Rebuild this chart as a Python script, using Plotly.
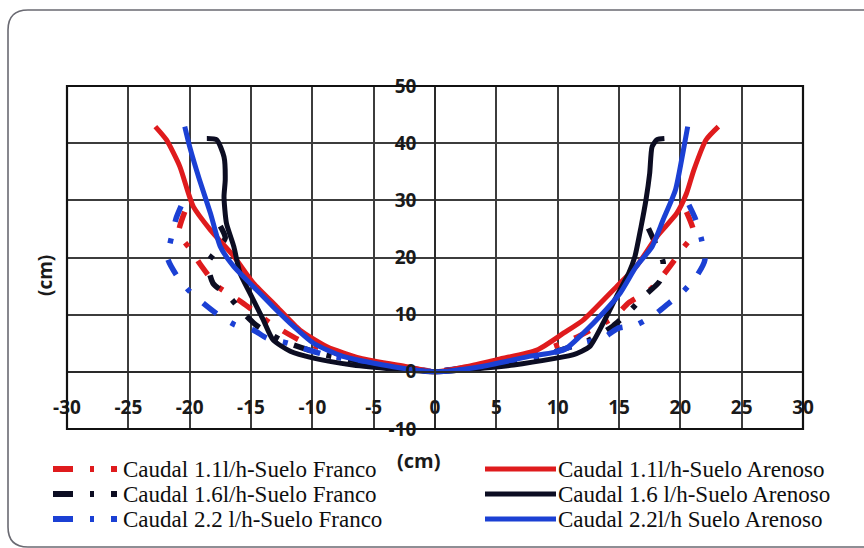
import plotly.graph_objects as go

# ---------------- data ----------------
# Suelo Arenoso (solid lines), left top -> origin -> right top
are11_x = [-22.8, -21.9, -20.8, -20.1, -19.7, -18.3, -16.4, -14.8, -12.9, -11.0, -8.8, -6.1, -2.3, 0,
           2.5, 5.0, 8.3, 10.5, 12.1, 14.8, 16.4, 18.1, 19.7, 20.5, 21.1, 22.1, 23.1]
are11_y = [42.9, 40.6, 35.9, 31.2, 28.9, 24.8, 20.2, 15.5, 11.4, 7.3, 4.4, 2.4, 0.9, 0,
           0.9, 2.1, 3.8, 6.8, 9.1, 14.9, 18.4, 23.7, 27.7, 31.2, 35.3, 40.6, 42.9]

are16_x = [-18.6, -17.8, -17.2, -17.1, -17.2, -17.0, -16.4, -15.9, -15.1, -14.0, -13.2, -11.8, -9.9, -6.7, -3.4, 0,
           2.3, 6.4, 9.9, 11.3, 12.6, 13.7, 14.8, 15.8, 16.3, 16.8, 17.2, 17.5, 17.7, 18.1, 18.7]
are16_y = [40.8, 40.6, 37.6, 33.6, 30.6, 26.0, 21.9, 17.3, 13.8, 9.1, 5.6, 3.6, 2.4, 1.2, 0.5, 0,
           0.35, 1.2, 2.4, 3.0, 4.4, 8.5, 13.2, 17.3, 20.2, 25.4, 30.1, 34.7, 39.4, 40.6, 40.8]

are22_x = [-20.4, -20.0, -19.2, -18.3, -17.5, -16.4, -14.8, -13.2, -11.5, -9.9, -7.5, -3.4, 0,
           3.7, 7.7, 10.5, 12.1, 13.7, 15.1, 16.4, 17.7, 18.6, 19.6, 20.2, 20.6]
are22_y = [42.9, 39.4, 33.6, 27.7, 21.9, 18.4, 14.9, 11.4, 7.9, 5.0, 2.7, 0.9, 0,
           0.9, 2.7, 3.8, 6.8, 10.3, 13.8, 18.4, 21.9, 26.6, 31.8, 38.2, 42.9]

# Suelo Franco (dash-dot lines): left half and right half, each from top to origin
fra11_lx = [-20.4, -20.9, -20.0, -19.2, -18.2, -17.7, -15.7, -14.0, -13.2, -11.0, -8.0, -5.0, 0]
fra11_ly = [28.0, 24.2, 21.6, 19.0, 16.1, 14.9, 12.1, 9.4, 8.2, 5.5, 3.2, 1.6, 0]
fra11_rx = [20.5, 21.1, 20.2, 19.3, 18.3, 17.5, 15.8, 14.7, 14.0, 11.0, 8.0, 5.0, 0]
fra11_ry = [28.0, 24.2, 21.6, 18.9, 16.1, 14.3, 12.1, 9.7, 8.8, 5.5, 3.2, 1.6, 0]

fra16_lx = [-17.5, -17.1, -18.5, -18.1, -16.8, -15.8, -14.6, -12.5, -9.0, -5.0, 0]
fra16_ly = [25.5, 23.4, 19.1, 15.5, 13.2, 10.7, 8.2, 5.5, 3.0, 1.4, 0]
fra16_rx = [17.4, 17.7, 18.6, 18.3, 17.0, 15.9, 14.5, 12.5, 9.0, 5.0, 0]
fra16_ry = [25.1, 23.7, 19.1, 15.8, 13.2, 10.7, 8.0, 5.5, 3.0, 1.4, 0]

fra22_lx = [-20.7, -21.1, -21.5, -21.8, -21.1, -20.1, -18.9, -17.7, -16.3, -14.8, -13.7, -12.0, -9.0, -5.0, 0]
fra22_ly = [29.0, 26.9, 23.4, 19.9, 17.0, 14.3, 12.0, 10.0, 8.2, 7.3, 5.9, 5.0, 3.0, 1.5, 0]
fra22_rx = [20.7, 21.2, 21.7, 22.0, 21.4, 20.3, 19.0, 17.9, 16.4, 14.9, 13.7, 12.0, 9.0, 5.0, 0]
fra22_ry = [29.2, 26.9, 23.4, 19.6, 17.0, 14.2, 11.9, 10.0, 8.2, 7.6, 5.9, 5.0, 3.0, 1.5, 0]

x_ticks = [-30, -25, -20, -15, -10, -5, 0, 5, 10, 15, 20, 25, 30]
y_ticks = [-10, 0, 10, 20, 30, 40, 50]

series_names = ["Caudal 1.1l/h-Suelo Franco", "Caudal 1.6l/h-Suelo Franco", "Caudal 2.2 l/h-Suelo Franco",
                "Caudal 1.1l/h-Suelo Arenoso", "Caudal 1.6 l/h-Suelo Arenoso", "Caudal 2.2l/h Suelo Arenoso"]

RED, BLACK, BLUE = "#df1b1d", "#0c0d22", "#1b40d4"
COLORS = [RED, BLACK, BLUE]
DASH = "17px,17px,5px,17px"

fig = go.Figure()

franco_data = [(fra11_lx, fra11_ly, fra11_rx, fra11_ry),
               (fra16_lx, fra16_ly, fra16_rx, fra16_ry),
               (fra22_lx, fra22_ly, fra22_rx, fra22_ry)]
arenoso_data = [(are11_x, are11_y), (are16_x, are16_y), (are22_x, are22_y)]

for (lx, ly, rx, ry), name, color in zip(franco_data, series_names[:3], COLORS):
    fig.add_trace(go.Scatter(
        x=lx + [None] + rx, y=ly + [None] + ry, mode="lines", name=name,
        connectgaps=False, showlegend=False,
        line=dict(color=color, width=5.5, dash=DASH, shape="spline", smoothing=0.6)))

for (x, y), name, color in zip(arenoso_data, series_names[3:], COLORS):
    fig.add_trace(go.Scatter(
        x=x, y=y, mode="lines", name=name, showlegend=False,
        line=dict(color=color, width=5, shape="spline", smoothing=0.6)))

W, H = 864, 548
L, R, T, B = 67, 61, 86, 119
pw, ph = W - L - R, H - T - B


def px(v):
    return (v - L) / pw


def py(v):
    return (H - B - v) / ph


tickfont = dict(family="Open Sans", size=19, color="#1a1a1a", weight="bold")
fig.update_xaxes(range=[-30, 30], tickvals=x_ticks, ticktext=[str(v) for v in x_ticks],
                 showgrid=True, gridcolor="#3c3c3c", gridwidth=1.6,
                 zeroline=False, showline=True, linecolor="#2a2a2a", linewidth=1.6,
                 anchor="free", position=10 / 60, ticks="", ticklabelstandoff=19,
                 tickfont=tickfont, fixedrange=True, automargin=False)
fig.update_yaxes(range=[-10, 50], tickvals=y_ticks, ticktext=[str(v) for v in y_ticks],
                 showgrid=True, gridcolor="#3c3c3c", gridwidth=1.6,
                 zeroline=False, showline=True, linecolor="#2a2a2a", linewidth=1.6,
                 anchor="free", position=0.5, ticks="", ticklabelstandoff=14,
                 tickfont=tickfont, fixedrange=True, automargin=False)

# outer rounded chart border (cropped at right/bottom like the reference)
x0, y0, x1, y1, r = px(8), py(10), px(880), py(547), 20
rx_, ry_ = r / pw, r / ph
border = (f"M {x0},{y0 - ry_} L {x0},{y1 + ry_} Q {x0},{y1} {x0 + rx_},{y1} "
          f"L {x1},{y1} L {x1},{y0} L {x0 + rx_},{y0} Q {x0},{y0} {x0},{y0 - ry_}")

shapes = [
    dict(type="rect", xref="x domain", yref="y domain", x0=0, x1=1, y0=0, y1=1,
         line=dict(color="#111111", width=2.2), layer="above"),
    dict(type="path", xref="paper", yref="paper", path=border,
         line=dict(color="#6a6a72", width=1.6)),
]
annotations = [
    dict(text="(cm)", xref="paper", yref="paper", x=px(45), y=py(276), textangle=-90,
         xanchor="center", yanchor="middle",
         showarrow=False, font=dict(family="Open Sans", size=19, color="#1a1a1a", weight="bold")),
    dict(text="(cm)", xref="paper", yref="paper", x=px(418), y=py(460),
         xanchor="center", yanchor="middle",
         showarrow=False, font=dict(family="Open Sans", size=20, color="#1a1a1a", weight="bold")),
]

# legend (two columns, drawn as samples + real text)
rows = [469, 494, 519]
legfont = dict(family="Liberation Serif", size=23, color="#0e0e0e")
for i, (name, color) in enumerate(zip(series_names[:3], COLORS)):
    shapes.append(dict(type="line", xref="paper", yref="paper", x0=px(53), x1=px(117),
                       y0=py(rows[i]), y1=py(rows[i]),
                       line=dict(color=color, width=6, dash="20px,17px,4px,17px")))
    annotations.append(dict(text=name, xref="paper", yref="paper", x=px(121), y=py(rows[i]),
                            xanchor="left", yanchor="middle", showarrow=False, font=legfont))
for i, (name, color) in enumerate(zip(series_names[3:], COLORS)):
    shapes.append(dict(type="line", xref="paper", yref="paper", x0=px(485), x1=px(556),
                       y0=py(rows[i]), y1=py(rows[i]),
                       line=dict(color=color, width=5)))
    annotations.append(dict(text=name, xref="paper", yref="paper", x=px(556), y=py(rows[i]),
                            xanchor="left", yanchor="middle", showarrow=False, font=legfont))

fig.update_layout(
    width=W, height=H, autosize=False,
    margin=dict(l=L, r=R, t=T, b=B, pad=0, autoexpand=False),
    paper_bgcolor="white", plot_bgcolor="white",
    shapes=shapes, annotations=annotations,
    showlegend=False,
)

fig.write_html("out.html")
